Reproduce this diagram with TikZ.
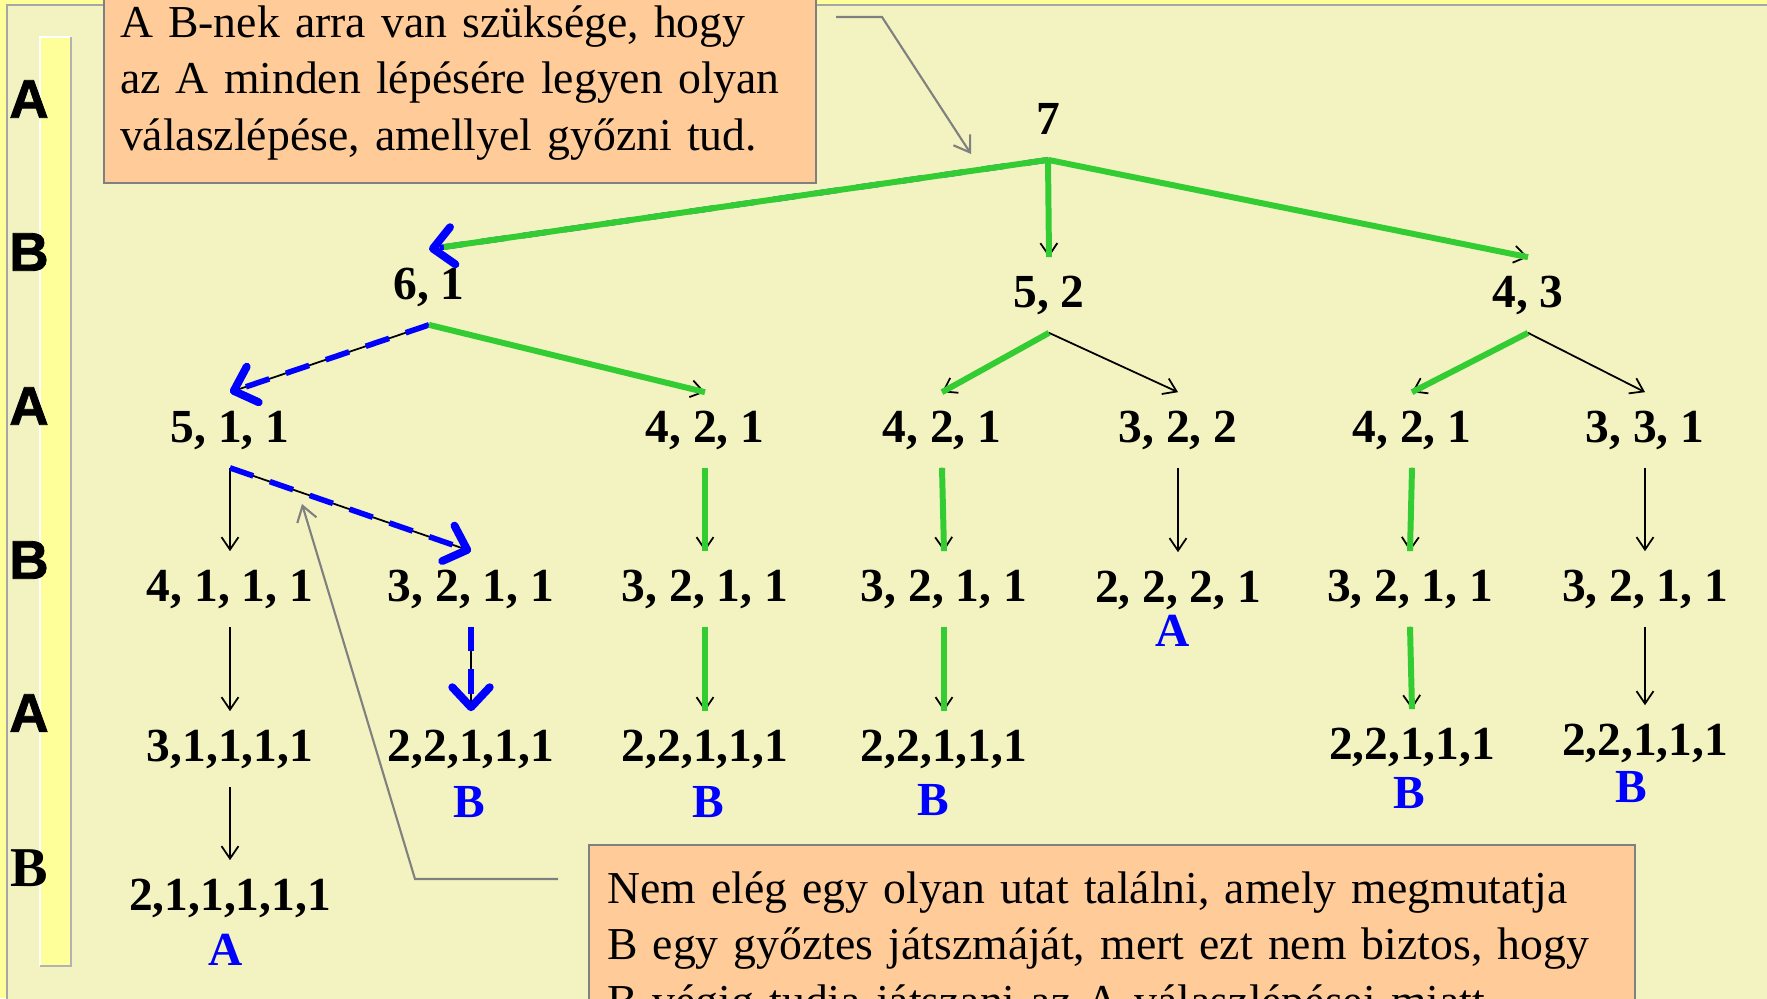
\documentclass[tikz,border=0pt]{standalone}
\usepackage{fontspec}
\setmainfont{Liberation Serif}
\newfontfamily\sidefont[BoldFeatures={FakeBold=1.5}]{Liberation Sans}
\usetikzlibrary{arrows.meta}

\definecolor{bgyellow}{HTML}{FFFF99}
\definecolor{paper}{HTML}{F3F3C1}
\definecolor{notefill}{HTML}{FFCC99}
\definecolor{wingreen}{HTML}{33CC33}

\tikzset{
  >={Straight Barb[length=0.25cm,width=0.34cm]},
  gamenode/.style={font=\fontsize{27}{32}\selectfont\bfseries, inner sep=0pt,
    minimum height=1.5cm, text height=0.62cm, text depth=0.12cm},
  winner/.style={font=\fontsize{27}{32}\selectfont\bfseries, text=blue, inner sep=0pt},
  player/.style={font=\fontsize{31}{32}\selectfont\sidefont\bfseries, inner sep=0pt},
  note/.style={draw=gray, line width=1.2pt, fill=notefill, align=left,
    font=\fontsize{26}{32}\selectfont, inner ysep=0pt},
  movearrow/.style={->, line width=1pt},
  greenline/.style={wingreen, line width=3.4pt},
  bluepath/.style={blue, line width=3.2pt, dash pattern=on 14pt off 10pt,
    -{Straight Barb[length=0.4cm,width=0.75cm,round,line width=4.5pt]}},
  calloutline/.style={gray, line width=1.2pt, -{Straight Barb[length=0.3cm,width=0.4cm]}}
}

\begin{document}
\begin{tikzpicture}[x=0.02cm, y=-0.02cm]
  \clip (0,0) rectangle (1767,998);
  % background and frame
  \fill[bgyellow] (0,0) rectangle (1767,998);
  \filldraw[fill=paper, draw=gray!70, line width=1.2pt] (7,5) rectangle (1790,1030);

  % the bar with the players
  \fill[bgyellow] (40,37) rectangle (71,966);
  \draw[white, line width=1.5pt] (40,966) -- (40,37) -- (71,37);
  \draw[gray!60, line width=1.5pt] (71,37) -- (71,966) -- (40,966);
  \node[player] (pl1) at (29,99) {A};
  \node[player] (pl2) at (29,252) {B};
  \node[player] (pl3) at (29,406) {A};
  \node[player] (pl4) at (29,560) {B};
  \node[player] (pl5) at (29,713) {A};
  \node[font=\fontsize{32}{32}\selectfont\bfseries, inner sep=0pt] (pl6) at (29,868) {B};

  % positions of the game
  \node[gamenode] (n7) at (1048,122) {7};
  \node[gamenode] (n61) at (429,287) {6, 1};
  \node[gamenode] (n52) at (1049,295) {5, 2};
  \node[gamenode] (n43) at (1528,295) {4, 3};
  \node[gamenode] (n511) at (230,430) {5, 1, 1};
  \node[gamenode] (n421a) at (705,430) {4, 2, 1};
  \node[gamenode] (n421b) at (942,430) {4, 2, 1};
  \node[gamenode] (n322) at (1178,430) {3, 2, 2};
  \node[gamenode] (n421c) at (1412,430) {4, 2, 1};
  \node[gamenode] (n331) at (1645,430) {3, 3, 1};
  \node[gamenode] (n4111) at (230,589) {4, 1, 1, 1};
  \node[gamenode] (n3211a) at (471,589) {3, 2, 1, 1};
  \node[gamenode] (n3211b) at (705,589) {3, 2, 1, 1};
  \node[gamenode] (n3211c) at (944,589) {3, 2, 1, 1};
  \node[gamenode] (n2221) at (1178,590) {2, 2, 2, 1};
  \node[gamenode] (n3211d) at (1410,589) {3, 2, 1, 1};
  \node[gamenode] (n3211e) at (1645,589) {3, 2, 1, 1};
  \node[gamenode] (n31111) at (230,749) {3,1,1,1,1};
  \node[gamenode] (n22111a) at (471,749) {2,2,1,1,1};
  \node[gamenode] (n22111b) at (705,749) {2,2,1,1,1};
  \node[gamenode] (n22111c) at (944,749) {2,2,1,1,1};
  \node[gamenode] (n22111d) at (1412,747) {2,2,1,1,1};
  \node[gamenode] (n22111e) at (1645,743) {2,2,1,1,1};
  \node[gamenode] (n211111) at (230,898) {2,1,1,1,1,1};

  % who wins at the end
  \node[winner] (w1) at (226,950) {A};
  \node[winner] (w2) at (469,802) {B};
  \node[winner] (w3) at (708,802) {B};
  \node[winner] (w4) at (933,800) {B};
  \node[winner] (w5) at (1173,631) {A};
  \node[winner] (w6) at (1409,793) {B};
  \node[winner] (w7) at (1631,787) {B};

  % moves
  \draw[movearrow] (n7.south) -- (n52.north);
  \draw[movearrow] (n7.south) -- (n43.north);
  \draw[movearrow] (n61.south) -- (n511.north);
  \draw[movearrow] (n61.south) -- (n421a.north);
  \draw[movearrow] (n52.south) -- (n421b.north);
  \draw[movearrow] (n52.south) -- (n322.north);
  \draw[movearrow] (n43.south) -- (n421c.north);
  \draw[movearrow] (n43.south) -- (n331.north);
  \draw[movearrow] (n511.south) -- (n4111.north);
  \draw[movearrow] (n511.south) -- (n3211a.north);
  \draw[movearrow] (n421a.south) -- (n3211b.north);
  \draw[movearrow] (n421b.south) -- (n3211c.north);
  \draw[movearrow] (n322.south) -- (n2221.north);
  \draw[movearrow] (n421c.south) -- (n3211d.north);
  \draw[movearrow] (n331.south) -- (n3211e.north);
  \draw[movearrow] (n4111.south) -- (n31111.north);
  \draw[movearrow] (n3211a.south) -- (n22111a.north);
  \draw[movearrow] (n3211b.south) -- (n22111b.north);
  \draw[movearrow] (n3211c.south) -- (n22111c.north);
  \draw[movearrow] (n3211d.south) -- (n22111d.north);
  \draw[movearrow] (n3211e.south) -- (n22111e.north);
  \draw[movearrow] (n31111.south) -- (n211111.north);

  % the one path in blue
  \draw[bluepath] (n7.south) -- (n61.north);
  \draw[bluepath] (n61.south) -- (n511.north);
  \draw[bluepath] (n511.south) -- (n3211a.north);
  \draw[bluepath] (n3211a.south) -- (n22111a.north);

  % answers of B that win
  \draw[greenline, shorten >=0.3cm] (n7.south) -- (n61.north);
  \draw[greenline] (n7.south) -- (n52.north);
  \draw[greenline] (n7.south) -- (n43.north);
  \draw[greenline] (n61.south) -- (n421a.north);
  \draw[greenline] (n52.south) -- (n421b.north);
  \draw[greenline] (n43.south) -- (n421c.north);
  \draw[greenline] (n421a.south) -- (n3211b.north);
  \draw[greenline] (n421b.south) -- (n3211c.north);
  \draw[greenline] (n421c.south) -- (n3211d.north);
  \draw[greenline] (n3211b.south) -- (n22111b.north);
  \draw[greenline] (n3211c.south) -- (n22111c.north);
  \draw[greenline] (n3211d.south) -- (n22111d.north);

  % notes
  \node[note, text width=13.6cm, inner xsep=0.32cm, minimum height=4.0cm] (topnote) at (460,83)
    {A B-nek arra van szüksége, hogy\\ az A minden lépésére legyen olyan\\ válaszlépése, amellyel győzni tud.};
  \node[note, text width=20.2cm, inner xsep=0.36cm, minimum height=4.16cm] (botnote) at (1112,949)
    {Nem elég egy olyan utat találni, amely megmutatja\\ B egy győztes játszmáját, mert ezt nem biztos, hogy\\ B végig tudja játszani az A válaszlépései miatt.};
  \coordinate (tp1) at (836,17);
  \coordinate (tp2) at (882,17);
  \coordinate (tp3) at (971,154);
  \draw[calloutline] (tp1) -- (tp2) -- (tp3);
  \coordinate (bp1) at (558,879);
  \coordinate (bp2) at (415,879);
  \coordinate (bp3) at (302,504);
  \draw[calloutline] (bp1) -- (bp2) -- (bp3);
\end{tikzpicture}
\end{document}
